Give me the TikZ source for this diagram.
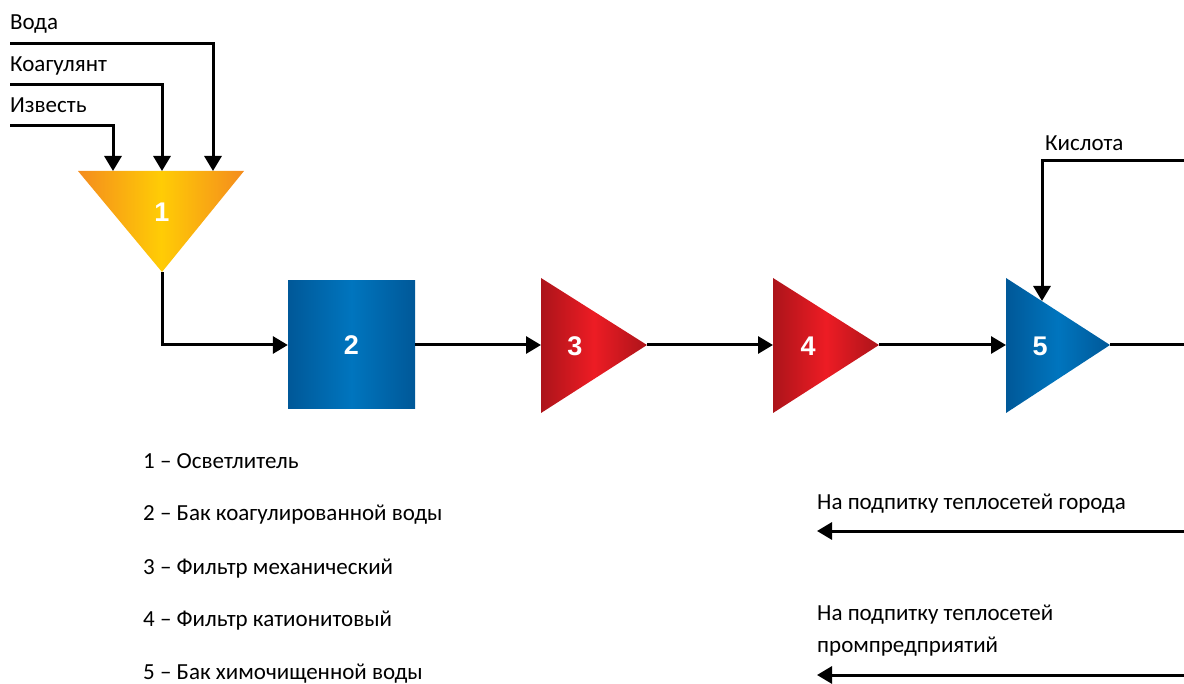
\documentclass[tikz,border=0pt]{standalone}
\usepackage{fontspec}
\setmainfont{Carlito}
\newfontfamily\numfont{Liberation Sans}
\usepackage{tikz}
\usetikzlibrary{arrows.meta,positioning,calc}
\definecolor{wor}{RGB}{244,140,30}
\definecolor{wyel}{RGB}{255,204,5}
\definecolor{wblue}{RGB}{0,88,152}
\definecolor{wbluel}{RGB}{0,117,190}
\definecolor{wred}{RGB}{172,20,26}
\definecolor{wredl}{RGB}{237,28,36}
\newcommand{\txt}{\fontsize{23}{27}\selectfont}
\tikzset{
  flow/.style={-{Triangle[length=15pt,width=17pt]},line width=3pt},
  pipe/.style={line width=3pt},
  num/.style={text=white,font=\numfont\fontsize{27}{30}\selectfont\bfseries,inner sep=0pt},
  lbl/.style={anchor=base west,font=\txt,inner sep=0pt},
  tank/.style={rectangle,minimum width=127pt,minimum height=128pt,inner sep=0pt,
               left color=wblue,right color=wblue,middle color=wbluel},
  redf/.style={left color=wred,right color=wred,middle color=wredl},
  bluef/.style={left color=wblue,right color=wblue,middle color=wbluel},
}
\begin{document}
\begin{tikzpicture}[x=1pt,y=-1pt]
  \useasboundingbox (0,0) rectangle (1184,684);
  % clarifier
  \shade[left color=wor,right color=wor,middle color=wyel] (78,171) -- (244,171) -- (162,272) -- cycle;
  \node[num] (n1) at (162,212) {1};
  \coordinate (t1a) at (113,171);
  \coordinate (t1b) at (162,171);
  \coordinate (t1c) at (213,171);
  \coordinate (t1out) at (162,272);
  % inputs
  \node[lbl] (water) at (10,30) {Вода};
  \node[lbl] (coag) at (10,72) {Коагулянт};
  \node[lbl] (lime) at (10,113) {Известь};
  \coordinate (water0) at (10,44);
  \coordinate (coag0) at (10,85);
  \coordinate (lime0) at (10,126);
  \draw[flow] (water0) -| (t1c);
  \draw[flow] (coag0) -| (t1b);
  \draw[flow] (lime0) -| (t1a);
  % tank of coagulated water
  \node[tank,num] (b2) at (351.5,345) {2};
  \draw[flow] (t1out) |- (b2.west);
  % filters and tank
  \shade[redf] (541,278) -- (647,345) -- (541,413) -- cycle;
  \node[num] (n3) at (575,346) {3};
  \shade[redf] (773,278) -- (879,345) -- (773,413) -- cycle;
  \node[num] (n4) at (808,346) {4};
  \shade[bluef] (1006,278) -- (1110,345) -- (1006,413) -- cycle;
  \node[num] (n5) at (1040,346) {5};
  \coordinate (t3in) at (541,345);
  \coordinate (t3out) at (647,345);
  \coordinate (t4in) at (773,345);
  \coordinate (t4out) at (879,345);
  \coordinate (t5in) at (1006,345);
  \coordinate (t5out) at (1110,345);
  \coordinate (t5top) at (1042,301);
  \coordinate (east) at (1184,345);
  \draw[flow] (b2.east) -- (t3in);
  \draw[flow] (t3out) -- (t4in);
  \draw[flow] (t4out) -- (t5in);
  \draw[pipe] (t5out) -- (east);
  % acid
  \node[lbl] (acid) at (1045,151) {Кислота};
  \coordinate (acid0) at (1184,161);
  \draw[flow] (acid0) -| (t5top);
  % outputs
  \node[lbl] (city) at (817,510) {На подпитку теплосетей города};
  \coordinate (city0) at (1184,531);
  \coordinate (city1) at (817,531);
  \draw[flow] (city0) -- (city1);
  \node[lbl] (ind) at (817,620) {На подпитку теплосетей};
  \node[lbl] (ind2) at (817,652) {промпредприятий};
  \coordinate (ind0) at (1184,675);
  \coordinate (ind1) at (817,675);
  \draw[flow] (ind0) -- (ind1);
  % legend
  \node[lbl] (k1) at (143,468) {1 – Осветлитель};
  \node[lbl] (k2) at (143,521) {2 – Бак коагулированной воды};
  \node[lbl] (k3) at (143,574) {3 – Фильтр механический};
  \node[lbl] (k4) at (143,626) {4 – Фильтр катионитовый};
  \node[lbl] (k5) at (143,679) {5 – Бак химочищенной воды};
\end{tikzpicture}
\end{document}
